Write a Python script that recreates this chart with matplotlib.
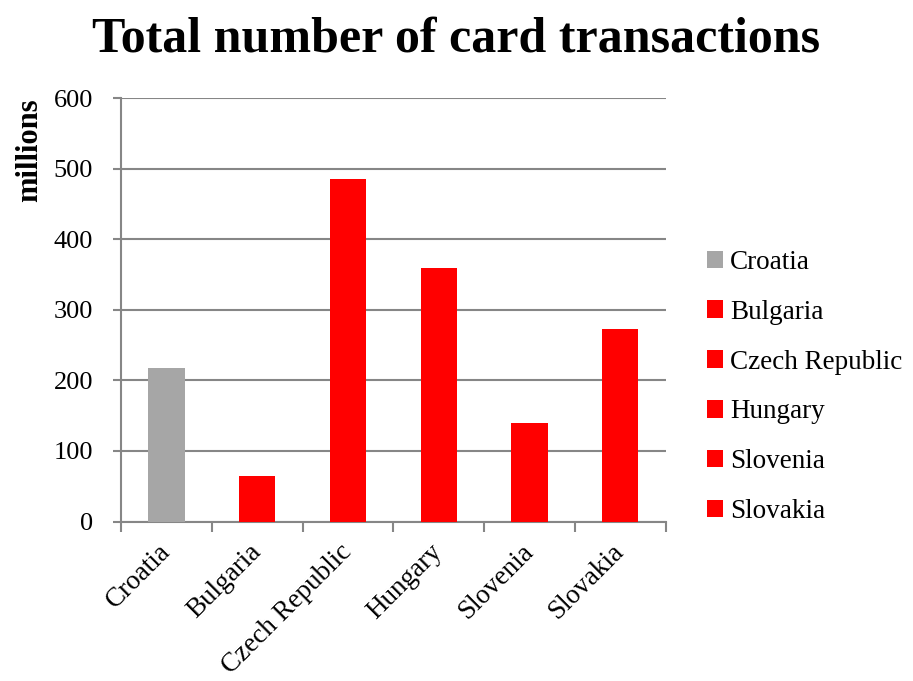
import matplotlib.pyplot as plt
import numpy as np
from matplotlib.patches import Patch

plt.rcParams['font.family'] = ['Liberation Serif', 'DejaVu Serif']

countries = ["Croatia", "Bulgaria", "Czech Republic", "Hungary", "Slovenia", "Slovakia"]
transactions = [218, 65, 485, 360, 140, 273]
bar_colors = ["#A6A6A6", "#FF0000", "#FF0000", "#FF0000", "#FF0000", "#FF0000"]
yticks = [0, 100, 200, 300, 400, 500, 600]

axis_grey = "#868686"

fig = plt.figure(figsize=(9.13, 6.81), dpi=100)
ax = fig.add_axes([0.1325, 0.2342, 0.5965, 0.6215])

x = np.arange(len(countries))
ax.bar(x, transactions, width=0.4, color=bar_colors, zorder=3)

ax.set_xlim(-0.5, len(countries) - 0.5)
ax.set_ylim(0, 600)
ax.set_yticks(yticks)
ax.yaxis.grid(True, color=axis_grey, linewidth=1.5, zorder=0)
ax.set_axisbelow(True)

for side in ["top", "right"]:
    ax.spines[side].set_visible(False)
for side in ["left", "bottom"]:
    ax.spines[side].set_color(axis_grey)
    ax.spines[side].set_linewidth(1.5)

ax.tick_params(axis="y", direction="out", length=6, width=1.5, color=axis_grey,
               labelsize=19, pad=14)

# category labels at centres, tick marks on the boundaries
ax.set_xticks(x)
ax.set_xticklabels(countries, rotation=45, ha="right", va="center",
                   rotation_mode="anchor", fontsize=19.5)
ax.tick_params(axis="x", which="major", length=0, pad=19)
ax.set_xticks(np.arange(-0.5, len(countries)), minor=True)
ax.tick_params(axis="x", which="minor", direction="out", length=7, width=1.5, color=axis_grey)

fig.text(30 / 913, 1 - 150 / 681, "millions", rotation=90, ha="center", va="center",
         fontsize=22, fontweight="bold")

fig.text(0.5, 1 - 52 / 681, "Total number of card transactions", ha="center",
         va="baseline", fontsize=36, fontweight="bold")

handles = [Patch(facecolor=c, edgecolor="none") for c in bar_colors]
fig.legend(handles, countries, loc="center left", bbox_to_anchor=(707 / 913, 1 - 387 / 681),
           frameon=False, fontsize=19.5, handlelength=0.6, handleheight=0.6,
           handletextpad=0.25, labelspacing=0.92, borderpad=0, borderaxespad=0)

fig.savefig("out.png", dpi=100)
